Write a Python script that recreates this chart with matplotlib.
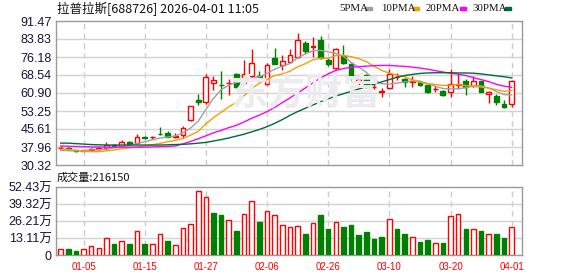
import matplotlib
matplotlib.use("Agg")
import matplotlib.pyplot as plt
from matplotlib.patches import Rectangle

plt.rcParams['font.family'] = ['Liberation Sans', 'Noto Sans CJK SC', 'DejaVu Sans']

# daily candles, 60 trading days (2025-12-29 .. 2026-04-01)
opens = [37.5, 37.6, 36.6, 36.4, 36.9, 37.2, 37.4, 39.0, 38.4, 40.0,
         39.6, 42.3, 42.0, 43.6, 44.0, 42.4, 43.2, 49.3, 58.0, 57.0,
         65.3, 64.5, 65.0, 68.8, 65.2, 68.1, 68.0, 64.6, 75.9, 72.6,
         73.9, 76.3, 82.1, 80.4, 83.4, 74.9, 71.4, 76.6, 73.1, 65.7,
         68.5, 63.4, 61.4, 63.2, 67.6, 66.8, 65.6, 65.4, 64.3, 62.5,
         61.7, 61.5, 64.5, 66.0, 63.9, 66.0, 60.3, 59.6, 56.2, 56.1]
highs = [38.2, 37.8, 36.8, 36.9, 37.4, 37.9, 40.2, 39.3, 40.9, 40.3,
         43.3, 42.5, 42.7, 46.6, 44.9, 43.9, 47.0, 55.4, 60.6, 68.8,
         68.1, 70.2, 66.7, 69.5, 74.8, 79.4, 70.2, 73.8, 79.9, 76.9,
         79.5, 86.4, 83.0, 84.7, 85.1, 75.6, 79.9, 81.3, 73.8, 68.8,
         68.8, 65.6, 63.2, 71.0, 69.5, 67.1, 68.1, 65.7, 64.5, 63.9,
         62.0, 70.9, 68.9, 66.7, 68.1, 66.2, 61.8, 60.5, 57.9, 66.4]
lows = [37.2, 37.0, 35.9, 36.2, 36.6, 36.9, 36.9, 38.2, 38.1, 38.9,
        39.2, 41.2, 41.5, 43.2, 42.1, 41.6, 41.9, 49.1, 56.0, 56.1,
        62.0, 58.2, 60.0, 63.2, 64.6, 67.4, 65.6, 64.3, 73.1, 70.5,
        73.5, 75.9, 78.0, 76.2, 75.2, 72.4, 71.0, 73.4, 66.3, 64.3,
        63.2, 62.5, 59.2, 62.5, 66.3, 63.6, 63.3, 64.0, 61.0, 61.5,
        59.6, 59.3, 62.6, 60.0, 63.3, 61.2, 56.8, 55.8, 54.6, 54.8]
closes = [37.7, 37.3, 36.2, 36.6, 37.1, 37.5, 39.0, 38.5, 40.0, 39.3,
          42.1, 41.6, 42.2, 43.3, 42.3, 42.7, 45.9, 55.2, 57.1, 67.7,
          66.4, 64.2, 65.3, 63.5, 69.1, 73.8, 67.6, 72.6, 73.4, 74.5,
          77.0, 83.3, 78.7, 80.7, 75.6, 73.1, 79.4, 73.8, 67.1, 66.7,
          63.9, 63.6, 61.6, 68.8, 67.8, 65.6, 65.8, 64.3, 61.2, 62.7,
          60.0, 64.7, 64.8, 63.6, 66.0, 61.5, 61.5, 57.2, 55.1, 66.0]

ma5 = [36.5, 36.4, 36.3, 36.4, 36.7, 36.8, 37.1, 37.6, 38.1, 38.6,
       39.5, 40.2, 41.0, 41.8, 42.2, 42.6, 44.0, 46.0, 48.9, 53.9,
       58.6, 62.3, 64.2, 65.4, 65.8, 67.1, 67.8, 69.2, 71.0, 72.3,
       73.4, 75.8, 77.5, 78.8, 79.0, 78.4, 77.7, 76.5, 73.9, 71.9,
       69.6, 66.6, 64.8, 64.7, 65.1, 65.6, 66.0, 66.0, 64.8, 63.8,
       62.8, 62.6, 62.7, 63.1, 63.9, 63.9, 63.0, 61.5, 60.2, 60.1]
ma10 = [37.0, 36.9, 36.6, 36.2, 36.0, 36.0, 36.3, 36.7, 37.2, 37.6,
        38.0, 38.4, 38.9, 39.5, 40.2, 40.8, 41.6, 43.0, 44.6, 47.8,
        50.4, 52.7, 55.0, 57.0, 59.7, 62.8, 65.0, 66.7, 68.3, 69.0,
        70.1, 72.0, 73.3, 75.0, 75.7, 75.6, 76.8, 76.9, 76.3, 75.5,
        74.2, 72.2, 70.5, 69.3, 68.5, 67.8, 66.4, 65.5, 64.9, 64.5,
        64.1, 64.2, 64.5, 64.0, 63.8, 63.4, 63.0, 62.3, 61.6, 62.0]
ma20 = [38.4, 38.3, 38.2, 38.1, 38.0, 38.0, 37.9, 37.9, 37.9, 37.9,
        37.9, 37.9, 38.0, 38.1, 38.2, 38.4, 39.3, 40.3, 41.5, 42.7,
        44.0, 45.0, 46.2, 47.2, 48.6, 50.2, 51.5, 53.0, 54.8, 56.8,
        58.8, 60.9, 63.0, 65.2, 67.3, 69.0, 70.5, 71.3, 71.8, 72.1,
        72.3, 72.5, 72.6, 72.6, 72.4, 72.2, 71.9, 71.5, 71.0, 70.4,
        69.8, 69.3, 68.9, 68.3, 67.4, 66.6, 65.7, 64.6, 63.8, 63.3]
ma30 = [39.6, 39.6, 39.4, 39.2, 39.0, 38.9, 38.8, 38.8, 38.8, 38.8,
        38.8, 38.8, 38.8, 38.8, 38.9, 39.0, 39.1, 39.3, 39.6, 39.9,
        40.5, 41.1, 41.8, 42.6, 43.4, 44.4, 45.4, 46.6, 48.0, 49.6,
        51.4, 53.0, 54.4, 55.8, 57.2, 58.4, 59.6, 60.6, 61.6, 62.6,
        63.6, 64.6, 65.6, 66.6, 67.6, 68.3, 68.8, 69.2, 69.4, 69.5,
        69.5, 69.5, 69.4, 69.4, 69.3, 69.0, 68.6, 68.2, 67.8, 67.3]

# volume in 万 shares, and whether the bar is red (up) or green
volumes = [4.4, 4.6, 3.1, 4.4, 7.0, 5.2, 12.9, 8.3, 11.1, 8.3,
           18.3, 8.3, 8.3, 16.0, 10.6, 7.5, 20.7, 23.8, 49.3, 44.7,
           32.3, 31.0, 26.9, 18.6, 31.5, 41.6, 25.6, 33.8, 30.7, 23.0,
           21.7, 22.2, 16.3, 24.5, 31.0, 20.1, 25.3, 21.7, 23.2, 15.5,
           17.8, 12.4, 13.9, 27.6, 20.1, 16.3, 13.7, 10.1, 11.6, 9.0,
           9.3, 30.0, 31.5, 20.1, 19.9, 18.6, 16.0, 16.3, 13.2, 21.6]
vol_up = "RGGRRRRGRGRGRRGRRRRRGGRGRRGRRRRRGRGGRGGGGGGRGGRGGRGRRGRGRGGR"

price_ticks = [30.32, 37.96, 45.61, 53.25, 60.90, 68.54, 76.18, 83.83, 91.47]
vol_ticks = [0, 13.11, 26.21, 39.32, 52.43]
vol_tick_labels = ["0", "13.11万", "26.21万", "39.32万", "52.43万"]
date_pos = [3, 11, 19, 27, 35, 43, 51, 59]
date_labels = ["01-05", "01-15", "01-27", "02-06", "02-26", "03-10", "03-20", "04-01"]

RED = "#ff0000"
GREEN = "#008000"
LABEL = "#15153a"

fig = plt.figure(figsize=(5.78, 2.76), dpi=100)
ax = fig.add_axes([56/578, 1-165/276, 466/578, 144/276])
axv = fig.add_axes([56/578, 1-255/276, 466/578, 68/276])

n = len(closes)
xs = list(range(n))

for a in (ax, axv):
    for s in a.spines.values():
        s.set_color("#999999")
        s.set_linewidth(1)
    a.set_xlim(-0.6, 60.35)
    a.tick_params(length=0, labelsize=9, labelcolor=LABEL, pad=3)
    a.set_xticks(date_pos)
    for p in date_pos:
        a.axvline(p, color="#cccccc", lw=1, ls=(0, (4, 3)), zorder=0)

# watermark
fig.text(0.53, 1-94/276, "东方财富", fontsize=27, fontweight="bold", color="#ececf0",
         family=["Noto Sans CJK SC"], ha="center", va="center", zorder=0)

# price panel
ax.set_ylim(30.32, 91.47)
ax.set_yticks(price_ticks)
ax.set_yticklabels(["%.2f" % v for v in price_ticks])
for v in price_ticks[1:-1]:
    ax.axhline(v, color="#d3d3d3", lw=1, zorder=0)
ax.set_xticklabels([])
ax.patch.set_alpha(0)

for i in xs:
    o, h, l, c = opens[i], highs[i], lows[i], closes[i]
    up = c >= o
    col = RED if up else GREEN
    ax.vlines(i, l, h, color=col, lw=1, zorder=3)
    body = max(abs(c - o), 0.12)
    ax.bar(i, body, bottom=min(o, c), width=0.62,
           facecolor="white" if up else GREEN, edgecolor=col, lw=1, zorder=4)

ax.plot(xs, ma5, color="#a0a0a0", lw=1, zorder=5)
ax.plot(xs, ma10, color="#f5a000", lw=1, zorder=5)
ax.plot(xs, ma20, color="#ff00ff", lw=1, zorder=5)
ax.plot(xs, ma30, color="#006a35", lw=1, zorder=5)

# volume panel
axv.set_ylim(0, 52.43)
axv.set_yticks(vol_ticks)
axv.set_yticklabels(vol_tick_labels)
for v in vol_ticks[1:-1]:
    axv.axhline(v, color="#d3d3d3", lw=1, zorder=0)
axv.set_xticklabels(date_labels)
axv.tick_params(axis="x", labelcolor=RED, labelsize=7, pad=5)
for i in xs:
    if vol_up[i] == "R":
        axv.bar(i, volumes[i], width=0.6, facecolor="white", edgecolor=RED, lw=1, zorder=3)
    else:
        axv.bar(i, volumes[i], width=0.6, facecolor=GREEN, edgecolor=GREEN, lw=1, zorder=3)

# header texts
fig.text(57/578, 1-9/276, "拉普拉斯[688726] 2026-04-01 11:05", fontsize=9,
         family=["Noto Sans CJK SC"], color="#111111", va="center")
fig.text(57/578, 1-177.5/276, "成交量:216150", fontsize=8,
         family=["Noto Sans CJK SC"], color="#111111", va="center")

legend = [("5PMA", 339, 366, "#a0a0a0"), ("10PMA", 381, 413, "#f5a000"),
          ("20PMA", 426, 460, "#ff00ff"), ("30PMA", 472, 505, "#006a35")]
for name, tx, sx, col in legend:
    fig.text(tx/578, 1-8.5/276, name, fontsize=7.8, family=["Liberation Serif"],
             color="#111111", va="center")
    fig.patches.append(Rectangle((sx/578, 1-10/276), 6/578, 3/276, color=col,
                                 transform=fig.transFigure, figure=fig))

fig.savefig("out.png", dpi=100)
